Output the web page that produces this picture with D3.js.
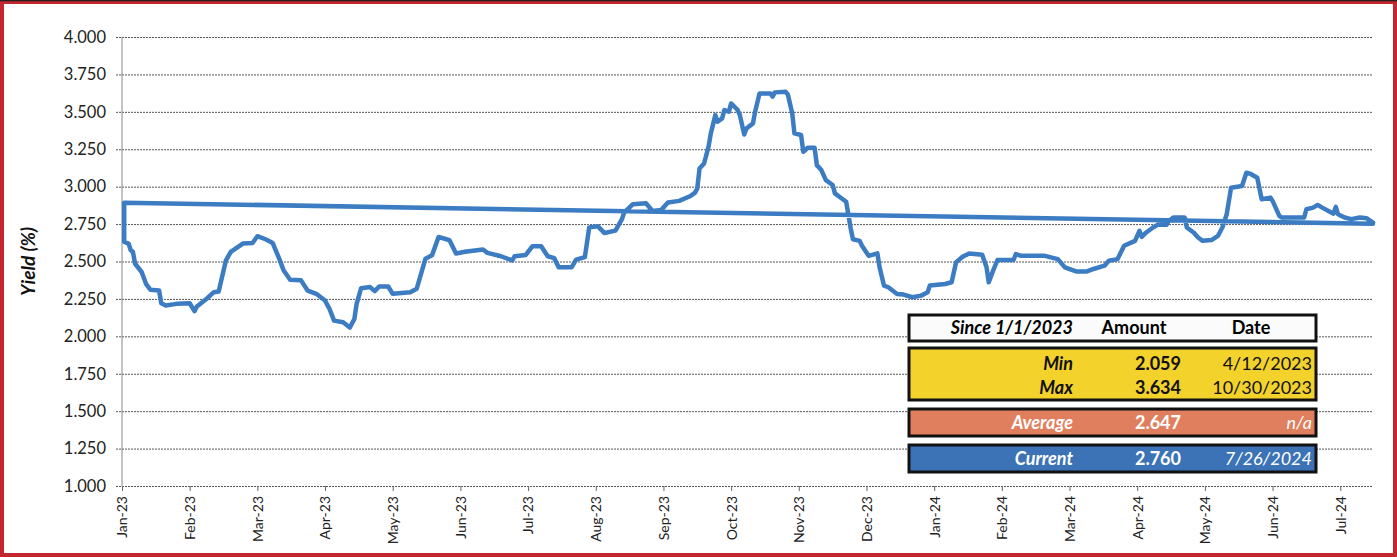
<!DOCTYPE html>
<html>
<head>
<meta charset="utf-8">
<script src="https://cdn.jsdelivr.net/npm/d3@7"></script>
<style>
  body { margin: 0; background: #fff; }
  svg { display: block; font-family: Lato, "Open Sans", sans-serif; }
</style>
</head>
<body>
<div id="chart"></div>
<script>
// yield series
const dates = [
  "2023-01-02","2023-01-04","2023-01-05","2023-01-06","2023-01-07","2023-01-10","2023-01-12","2023-01-14","2023-01-18","2023-01-19","2023-01-21","2023-01-26",
  "2023-02-01","2023-02-03","2023-02-04","2023-02-08","2023-02-11","2023-02-13","2023-02-16","2023-02-18","2023-02-23","2023-02-27",
  "2023-03-01","2023-03-05","2023-03-08","2023-03-11","2023-03-13","2023-03-16","2023-03-21","2023-03-24","2023-03-28",
  "2023-04-01","2023-04-03","2023-04-05","2023-04-09","2023-04-12","2023-04-14","2023-04-15","2023-04-17","2023-04-21","2023-04-23","2023-04-25","2023-04-29",
  "2023-05-01","2023-05-09","2023-05-12","2023-05-16","2023-05-19","2023-05-22","2023-05-27","2023-05-30",
  "2023-06-03","2023-06-11","2023-06-13","2023-06-19","2023-06-24","2023-06-25","2023-06-30",
  "2023-07-03","2023-07-07","2023-07-10","2023-07-13","2023-07-15","2023-07-21","2023-07-23","2023-07-27","2023-07-29",
  "2023-08-02","2023-08-05","2023-08-10","2023-08-13","2023-08-14","2023-08-18","2023-08-24","2023-08-27","2023-08-31",
  "2023-09-03","2023-09-08","2023-09-13","2023-09-15","2023-09-16","2023-09-17","2023-09-19","2023-09-21","2023-09-22","2023-09-24","2023-09-25","2023-09-27","2023-09-28","2023-09-30",
  "2023-10-01","2023-10-04","2023-10-05","2023-10-07","2023-10-08","2023-10-11","2023-10-12","2023-10-14","2023-10-19","2023-10-20","2023-10-21","2023-10-26","2023-10-27","2023-10-29","2023-10-30",
  "2023-11-02","2023-11-03","2023-11-05","2023-11-08","2023-11-09","2023-11-11","2023-11-13","2023-11-16","2023-11-17","2023-11-19","2023-11-22","2023-11-23","2023-11-24","2023-11-25","2023-11-28","2023-11-29",
  "2023-12-02","2023-12-06","2023-12-07","2023-12-09","2023-12-11","2023-12-15","2023-12-18","2023-12-22","2023-12-26","2023-12-29","2023-12-30",
  "2024-01-06","2024-01-09","2024-01-11","2024-01-14","2024-01-17","2024-01-23","2024-01-25","2024-01-26","2024-01-28","2024-01-30",
  "2024-02-06","2024-02-07","2024-02-09","2024-02-19","2024-02-25","2024-02-28",
  "2024-03-04","2024-03-09","2024-03-12","2024-03-17","2024-03-19","2024-03-23","2024-03-26","2024-03-31",
  "2024-04-02","2024-04-03","2024-04-05","2024-04-08","2024-04-10","2024-04-14","2024-04-15","2024-04-17","2024-04-22","2024-04-23","2024-04-26","2024-04-28","2024-04-30",
  "2024-05-04","2024-05-07","2024-05-09","2024-05-11","2024-05-13","2024-05-18","2024-05-20","2024-05-22","2024-05-25","2024-05-27","2024-05-31",
  "2024-06-01","2024-06-04","2024-06-05","2024-06-15","2024-06-16","2024-06-19","2024-06-21","2024-06-23","2024-06-27","2024-06-28","2024-06-29","2024-06-30",
  "2024-07-03","2024-07-06","2024-07-10","2024-07-13","2024-07-16"
]
const yields = [
  2.631,2.620,2.575,2.564,2.485,2.430,2.351,2.311,2.306,2.221,2.206,2.217,
  2.221,2.168,2.199,2.251,2.295,2.300,2.508,2.564,2.620,2.624,
  2.669,2.647,2.624,2.519,2.441,2.378,2.374,2.306,2.284,
  2.239,2.183,2.105,2.094,2.059,2.116,2.217,2.322,2.329,2.302,2.333,2.333,
  2.284,2.295,2.318,2.519,2.541,2.664,2.642,2.553,
  2.565,2.580,2.558,2.535,2.507,2.535,2.544,
  2.602,2.602,2.535,2.522,2.462,2.462,2.513,2.529,2.728,
  2.735,2.690,2.706,2.783,2.827,2.883,2.889,2.838,2.845,
  2.894,2.905,2.938,2.960,2.988,3.122,3.155,3.267,3.356,3.478,3.434,3.456,3.512,3.501,
  3.556,3.512,3.478,3.349,3.389,3.423,3.501,3.623,3.623,3.601,3.630,3.634,3.615,3.489,3.356,
  3.345,3.233,3.260,3.260,3.144,3.111,3.044,3.011,2.955,2.933,2.899,2.810,2.721,2.649,2.638,2.605,
  2.538,2.554,2.461,2.339,2.328,2.283,2.279,2.261,2.272,2.294,2.339,
  2.350,2.361,2.494,2.532,2.554,2.545,2.461,2.361,2.439,2.510,
  2.510,2.550,2.539,2.539,2.516,2.461,
  2.434,2.434,2.450,2.472,2.505,2.516,2.605,2.638,
  2.705,2.665,2.694,2.727,2.745,2.745,2.771,2.794,2.794,2.727,2.694,2.660,2.638,
  2.643,2.672,2.727,2.816,2.993,3.004,3.093,3.085,3.060,2.916,2.927,
  2.905,2.805,2.794,2.794,2.849,2.860,2.878,2.860,2.827,2.820,2.865,2.816,
  2.794,2.783,2.794,2.789,2.760
]
// trend line, start and end values
const trend = [2.893, 2.752]

const monthLabels = ["Jan-23","Feb-23","Mar-23","Apr-23","May-23","Jun-23","Jul-23","Aug-23","Sep-23","Oct-23","Nov-23","Dec-23",
  "Jan-24","Feb-24","Mar-24","Apr-24","May-24","Jun-24","Jul-24"]
const yTicks = [1, 1.25, 1.5, 1.75, 2, 2.25, 2.5, 2.75, 3, 3.25, 3.5, 3.75, 4]

// summary box
const statNames = ["Min", "Max", "Average", "Current"]
const statAmounts = [2.059, 3.634, 2.647, 2.760]
const statDates = ["4/12/2023", "10/30/2023", "n/a", "7/26/2024"]

const W = 1397, H = 557
const plotL = 122, plotR = 1373, plotT = 37, plotB = 486
const lineColor = "#3b7cc3"

const parse = d3.timeParse("%Y-%m-%d")
const start = parse("2023-01-01")
// the axis puts every month at the same width, so position = months + fraction of month
const monthPos = d => {
  const m0 = d3.timeMonth.floor(d)
  const m1 = d3.timeMonth.offset(m0, 1)
  return d3.timeMonth.count(start, m0) + (d - m0) / (m1 - m0)
}

const series = dates.map((d, i) => ({ m: monthPos(parse(d)), v: yields[i] }))
const lastM = series[series.length - 1].m

const x = d3.scaleLinear().domain([0, lastM]).range([plotL, plotR])
const y = d3.scaleLinear().domain([1, 4]).range([plotB, plotT])

const svg = d3.select("#chart").append("svg")
  .attr("width", W)
  .attr("height", H)

svg.append("rect").attr("width", W).attr("height", H).attr("fill", "#fff")

// grid lines (dotted)
const grid = svg.append("g")
  .attr("transform", `translate(${plotL},0)`)
  .call(d3.axisLeft(y).tickValues(yTicks).tickSize(6).tickFormat(d3.format(".3f")).tickPadding(10))
grid.select(".domain").remove()
grid.selectAll(".tick line")
  .attr("x1", -6)
  .attr("x2", plotR - plotL)
  .attr("stroke", "#555")
  .attr("stroke-width", 1)
  .attr("stroke-dasharray", "2,1")
grid.selectAll(".tick text")
  .attr("fill", "#222")
  .style("font-size", "16.5px")
  .style("font-family", "Lato, sans-serif")

// y axis line
svg.append("line")
  .attr("x1", plotL).attr("x2", plotL)
  .attr("y1", plotT).attr("y2", plotB)
  .attr("stroke", "#888").attr("stroke-width", 1)

// x axis
const xAxis = svg.append("g")
  .attr("transform", `translate(0,${plotB})`)
  .call(d3.axisBottom(x).tickValues(d3.range(monthLabels.length)).tickFormat(i => monthLabels[i]).tickSize(5).tickSizeOuter(0))
xAxis.select(".domain").remove()
xAxis.selectAll(".tick line").attr("stroke", "#666")
xAxis.selectAll(".tick text")
  .attr("fill", "#222")
  .style("font-size", "14px")
  .style("font-family", "Lato, sans-serif")
  .attr("text-anchor", "end")
  .attr("transform", "rotate(-90)")
  .attr("x", -10)
  .attr("y", 0)
  .attr("dy", "0.35em")

// y title
svg.append("text")
  .attr("transform", `translate(35,${(plotT + plotB) / 2}) rotate(-90)`)
  .attr("text-anchor", "middle")
  .style("font-size", "19px")
  .style("font-weight", "bold")
  .style("font-style", "italic")
  .attr("fill", "#111")
  .text("Yield (%)")

// trend line joined to series start, like the original
const pathPts = [{ m: lastM, v: trend[1] }, { m: series[0].m, v: trend[0] }].concat(series)
const line = d3.line().x(d => x(d.m)).y(d => y(d.v))
svg.append("path")
  .datum(pathPts)
  .attr("d", line)
  .attr("fill", "none")
  .attr("stroke", lineColor)
  .attr("stroke-width", 4.5)
  .attr("stroke-linejoin", "round")
  .attr("stroke-linecap", "round")

// summary table
const tbl = svg.append("g").style("font-size", "18px")
const bx = 909, bw = 407
const colName = 1073, colAmt = 1181, colDate = 1312

const box = (y0, h, fill) => tbl.append("rect")
  .attr("x", bx).attr("y", y0).attr("width", bw).attr("height", h)
  .attr("fill", fill).attr("stroke", "#111").attr("stroke-width", 3)

box(315, 26, "#fbfbfb")
box(348, 52, "#f3d22c")
box(409, 27, "#df7f5e")
box(445, 27, "#3b73b6")

tbl.append("text").attr("x", colName).attr("y", 334).attr("text-anchor", "end")
  .style("font-weight", "bold").style("font-style", "italic").text("Since 1/1/2023")
tbl.append("text").attr("x", 1134).attr("y", 334).attr("text-anchor", "middle")
  .style("font-weight", "bold").text("Amount")
tbl.append("text").attr("x", 1251).attr("y", 334).attr("text-anchor", "middle")
  .style("font-weight", "bold").text("Date")

const rowY = [370, 394, 429, 465]
const rowFill = ["#111", "#111", "#fff", "#fff"]
statNames.forEach((n, i) => {
  tbl.append("text").attr("x", colName).attr("y", rowY[i]).attr("text-anchor", "end")
    .attr("fill", rowFill[i]).style("font-weight", "bold").style("font-style", "italic").text(n)
  tbl.append("text").attr("x", colAmt).attr("y", rowY[i]).attr("text-anchor", "end")
    .attr("fill", rowFill[i]).style("font-weight", "bold").text(d3.format(".3f")(statAmounts[i]))
  tbl.append("text").attr("x", colDate).attr("y", rowY[i]).attr("text-anchor", "end")
    .attr("fill", rowFill[i]).style("font-style", i >= 2 ? "italic" : "normal").text(statDates[i])
})

// red frame
svg.append("rect")
  .attr("x", 2).attr("y", 2).attr("width", W - 4).attr("height", H - 4)
  .attr("fill", "none").attr("stroke", "#c3262e").attr("stroke-width", 4)
svg.append("line").attr("x1", 0).attr("x2", W).attr("y1", 0.5).attr("y2", 0.5)
  .attr("stroke", "#222").attr("stroke-width", 1.5)
</script>
</body>
</html>
